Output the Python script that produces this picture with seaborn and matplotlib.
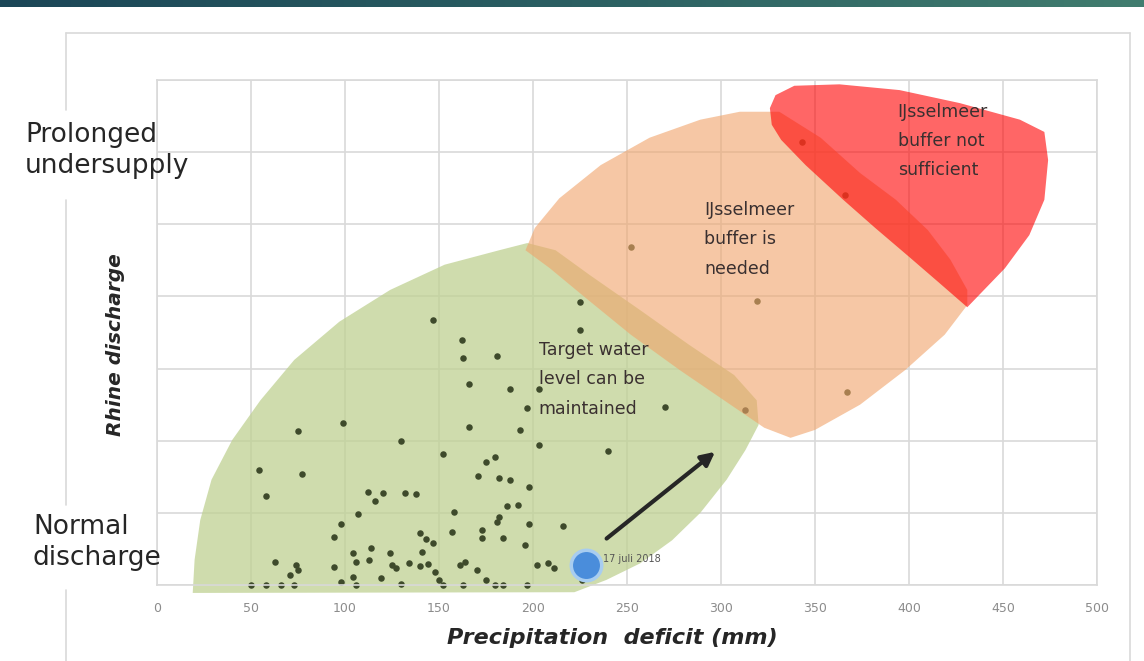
import numpy as np
import pandas as pd
import seaborn as sns
import matplotlib.pyplot as plt
from matplotlib.lines import Line2D
from matplotlib.colors import LinearSegmentedColormap

# yearly points: precipitation deficit (mm) vs Rhine discharge (relative scale 0-7)
deficit_mm = [147, 162, 163, 181, 166, 188, 203, 197, 225, 99, 75, 166, 193, 130, 203, 152, 240, 270,
              54, 77, 175, 180, 171, 182, 188, 198, 58, 112, 120, 116, 132, 138, 107, 158, 186, 192,
              182, 181, 98, 198, 216, 94, 140, 143, 147, 157, 173, 173, 184, 196, 63, 74, 75, 71,
              104, 114, 106, 113, 124, 141, 94, 125, 127, 134, 140, 144, 161, 164, 170, 148, 150, 152,
              202, 208, 211, 104, 98, 119, 130, 106, 50, 58, 66, 73, 175, 180, 184, 163, 197, 226,
              252, 225, 319, 367, 313, 343, 366]
discharge = [3.67, 3.39, 3.15, 3.17, 2.78, 2.71, 2.71, 2.46, 3.54, 2.25, 2.13, 2.19, 2.15, 1.99, 1.94, 1.82, 1.86, 2.47,
             1.60, 1.54, 1.71, 1.78, 1.51, 1.49, 1.46, 1.36, 1.24, 1.29, 1.28, 1.17, 1.28, 1.26, 0.99, 1.01, 1.10, 1.11,
             0.94, 0.88, 0.85, 0.85, 0.82, 0.67, 0.72, 0.64, 0.58, 0.74, 0.76, 0.65, 0.65, 0.56, 0.32, 0.28, 0.21, 0.14,
             0.44, 0.51, 0.32, 0.35, 0.44, 0.46, 0.25, 0.28, 0.24, 0.31, 0.26, 0.29, 0.28, 0.32, 0.21, 0.18, 0.07, 0.00,
             0.28, 0.31, 0.24, 0.11, 0.04, 0.10, 0.01, 0.00, 0.00, 0.00, 0.00, 0.00, 0.07, 0.00, 0.00, 0.00, 0.00, 0.07,
             4.68, 3.92, 3.94, 2.67, 2.43, 6.14, 5.40]

# 17 juli 2018
current_x = [228]
current_y = [0.28]
current_label = "17 juli 2018"

# zone outlines (deficit, discharge)
green_x = [19, 20, 23, 29, 40, 55, 73, 97, 124, 153, 182, 197, 212, 230, 257, 283, 307, 319, 320, 313,
           303, 289, 274, 257, 239, 222]
green_y = [-0.11, 0.35, 0.90, 1.46, 2.01, 2.56, 3.12, 3.65, 4.09, 4.44, 4.64, 4.74, 4.64, 4.30, 3.81, 3.33,
           2.91, 2.56, 2.22, 1.87, 1.46, 1.00, 0.62, 0.30, 0.07, -0.10]
orange_x = [196, 201, 214, 236, 262, 289, 310, 331, 353, 374, 393, 410, 422, 431, 431, 419, 398, 374, 350,
            337, 323, 305, 278, 252, 228, 209]
orange_y = [4.64, 4.95, 5.36, 5.82, 6.20, 6.45, 6.56, 6.56, 6.20, 5.71, 5.34, 4.92, 4.51, 4.09, 3.88, 3.47,
            2.98, 2.50, 2.15, 2.04, 2.18, 2.50, 2.98, 3.47, 3.98, 4.39]
red_x = [326, 329, 339, 363, 395, 427, 459, 472, 474, 472, 464, 451, 431, 416, 400, 382, 365, 345, 332, 327]
red_y = [6.61, 6.79, 6.92, 6.94, 6.86, 6.68, 6.45, 6.28, 5.89, 5.34, 4.85, 4.39, 3.85, 4.19, 4.55, 4.95,
         5.34, 5.82, 6.17, 6.38]

x_ticks = [0, 50, 100, 150, 200, 250, 300, 350, 400, 450, 500]

sns.set_style("whitegrid")
plt.rcParams['font.family'] = ['DejaVu Sans']

W, H = 1144, 661
fig = plt.figure(figsize=(W / 100, H / 100), dpi=100)
ax = fig.add_axes([157 / W, 1 - 585 / H, 940 / W, 505 / H])

ax.fill(green_x, green_y, color='#bfd192', alpha=0.75, lw=0, zorder=1, clip_on=False)

df = pd.DataFrame({"deficit": deficit_mm, "discharge": discharge})
sns.scatterplot(data=df, x="deficit", y="discharge", ax=ax, s=22, color='#3e4a2b',
                linewidth=0, zorder=2, clip_on=False)

ax.fill(orange_x, orange_y, color='#f0a369', alpha=0.6, lw=0, zorder=3)
ax.fill(red_x, red_y, color='#ff0000', alpha=0.6, lw=0, zorder=4)

sns.scatterplot(x=current_x, y=current_y, ax=ax, s=480, color='#4a8ddb', edgecolor='#a8cdf0',
                linewidth=2.5, zorder=6, clip_on=False)
ax.text(current_x[0] + 9, current_y[0] + 0.08, current_label, fontsize=7, color='#555555',
        va='center', zorder=7)
ax.annotate("", xy=(298, 1.87), xytext=(238, 0.62),
            arrowprops=dict(arrowstyle='-|>', color='#262626', lw=3, mutation_scale=20), zorder=7)

txt = dict(fontsize=12.5, color='#3a3030', va='top', ha='left', linespacing=1.8, zorder=8)
ax.text(394, 6.68, "IJsselmeer\nbuffer not\nsufficient", **txt)
ax.text(291, 5.32, "IJsselmeer\nbuffer is\nneeded", **txt)
ax.text(203, 3.38, "Target water\nlevel can be\nmaintained", **txt)

ax.set_xlim(0, 500)
ax.set_ylim(0, 7)
ax.set_xticks(x_ticks)
ax.set_yticks(range(0, 8))
ax.set_yticklabels([])
ax.grid(True, color='#d9d9d9', lw=1.2)
for s in ax.spines.values():
    s.set_color('#d9d9d9')
    s.set_linewidth(1.2)
ax.tick_params(axis='x', colors='#d9d9d9', labelcolor='#8c8c8c', labelsize=9, length=4, width=1.2, pad=8)
ax.tick_params(axis='y', length=0)

ax.set_xlabel("Precipitation  deficit (mm)", fontsize=16, fontweight='bold', fontstyle='italic',
              color='#262626')
ax.xaxis.set_label_coords(0.484, -0.085)
ax.set_ylabel("Rhine discharge", fontsize=14.5, fontweight='bold', fontstyle='italic', color='#262626')
ax.yaxis.set_label_coords(-0.034, 0.475)

fig.text(25 / W, 1 - 122 / H, "Prolonged\nundersupply", fontsize=19, color='#262626', va='top',
         linespacing=1.25)
fig.text(33 / W, 1 - 514 / H, "Normal\ndischarge", fontsize=19, color='#262626', va='top',
         linespacing=1.25)

# outer chart frame
frame = '#d9d9d9'
for xs, ys in [([66, 1130], [33, 33]), ([1130, 1130], [33, 661]), ([66, 66], [33, 110]),
               ([66, 66], [200, 505]), ([66, 66], [590, 661])]:
    fig.add_artist(Line2D([x / W for x in xs], [1 - y / H for y in ys], color=frame, lw=1.2))

# banner
bax = fig.add_axes([0, 1 - 7 / H, 1, 7 / H])
bax.imshow(np.linspace(0, 1, 256)[None, :], aspect='auto',
           cmap=LinearSegmentedColormap.from_list('banner', ['#1b4657', '#2b5f62', '#417d6f']))
bax.axis('off')

fig.savefig("out.png", dpi=100)
